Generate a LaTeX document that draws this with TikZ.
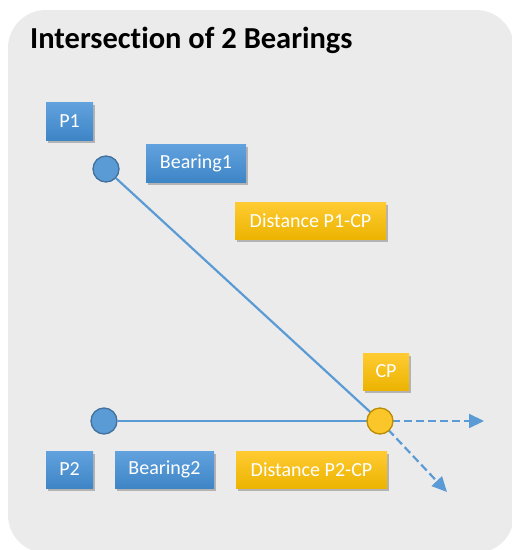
\documentclass[tikz,border=0pt]{standalone}
\usepackage{fontspec}
\setmainfont{Carlito}[Ligatures=NoCommon]
\usetikzlibrary{arrows.meta,shadows}
\definecolor{panel}{HTML}{EBEBEB}
\definecolor{lineblue}{HTML}{5B9BD5}
\definecolor{ringblue}{HTML}{41719C}
\definecolor{bluetop}{HTML}{62A2DE}
\definecolor{bluebot}{HTML}{3E85C6}
\definecolor{goldtop}{HTML}{FFCB33}
\definecolor{goldbot}{HTML}{ECB400}
\definecolor{goldring}{HTML}{BC8C00}
\tikzset{
  boxbase/.style={inner sep=0pt, text=white, font=\fontsize{20}{24}\selectfont,
    drop shadow={shadow xshift=1.5pt, shadow yshift=-2.5pt, opacity=0.35, fill=black!70}},
  bluebox/.style={boxbase, top color=bluetop, bottom color=bluebot},
  goldbox/.style={boxbase, top color=goldtop, bottom color=goldbot},
  station/.style={circle, minimum size=26pt, inner sep=0pt, fill=lineblue, draw=ringblue, line width=1.3pt},
  fix/.style={circle, minimum size=26pt, inner sep=0pt, fill=goldtop!80!goldbot, draw=goldring, line width=1.3pt},
  bearing/.style={draw=lineblue, line width=2.2pt},
  extension/.style={draw=lineblue, line width=2.2pt, dash pattern=on 8pt off 4pt,
    -{Triangle[length=15pt,width=14pt]}}
}
\begin{document}
\begin{tikzpicture}[x=1pt,y=-1pt]
  \useasboundingbox (0,0) rectangle (512,550);
  % panel
  \fill[panel, rounded corners=38pt] (8,10) rectangle (514,553);
  % title
  \node[anchor=base west, inner sep=0pt, font=\fontsize{30.5}{35}\selectfont\bfseries] (title) at (30,48) {Intersection of 2 Bearings};
  % labels
  \node[bluebox, minimum width=47pt, minimum height=38pt] (p1) at (69.5,121) {P1};
  \node[bluebox, minimum width=100pt, minimum height=38pt] (b1) at (196,163) {Bearing1};
  \node[goldbox, minimum width=151pt, minimum height=37pt] (d1) at (310.5,220.5) {Distance P1-CP};
  \node[goldbox, minimum width=46pt, minimum height=37pt] (cpl) at (386,371.5) {CP};
  \node[bluebox, minimum width=47pt, minimum height=37pt] (p2) at (69.5,469.5) {P2};
  \node[bluebox, minimum width=99pt, minimum height=37pt] (b2) at (164.5,469.5) {Bearing2};
  \node[goldbox, minimum width=151pt, minimum height=37pt] (d2) at (311.5,469.5) {Distance P2-CP};
  % arrow ends
  \coordinate (e1) at (484,421);
  \coordinate (e2) at (447,492);
  % bearing lines and their extensions
  \path (106,169) node[station] (s1) {};
  \path (104,421) node[station] (s2) {};
  \path (380,421) coordinate (cpc);
  \draw[bearing] (s1) -- (cpc);
  \draw[bearing] (s2) -- (cpc);
  \draw[extension] (cpc) -- (e1);
  \draw[extension] (cpc) -- (e2);
  \node[fix] (cp) at (cpc) {};
\end{tikzpicture}
\end{document}
